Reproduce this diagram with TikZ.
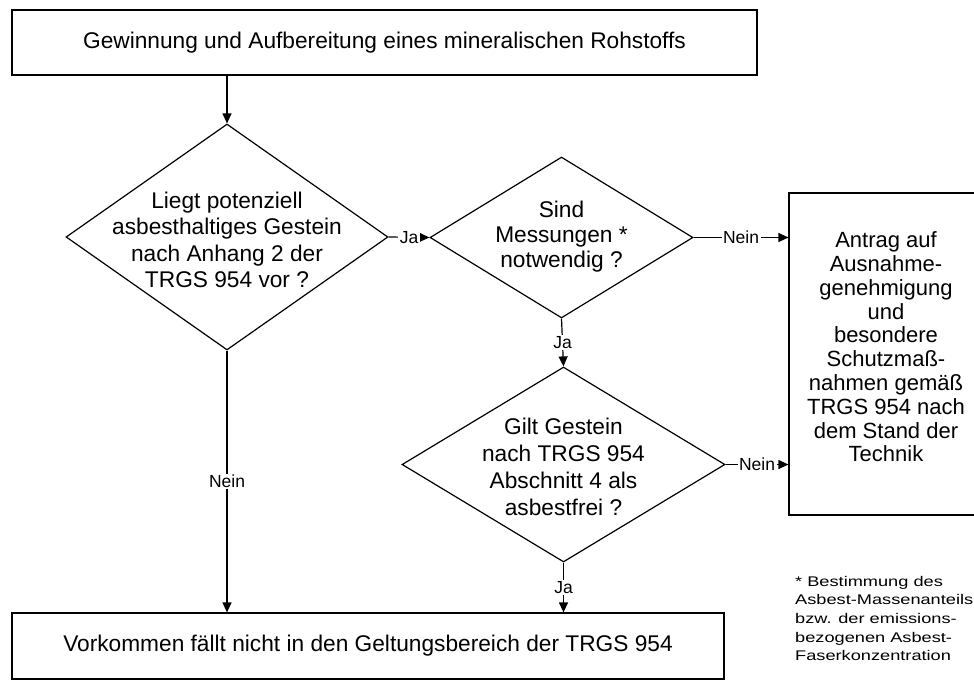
\documentclass[tikz,border=0pt]{standalone}
\usepackage{fontspec}
\setmainfont{Liberation Sans}
\newfontfamily\notefont[FakeStretch=1.3]{Liberation Sans}
\usetikzlibrary{shapes.geometric,arrows.meta}
\begin{document}
\begin{tikzpicture}[x=1pt,y=-1pt,
  box/.style={draw, line width=1.2pt, inner sep=0pt, rectangle},
  dia/.style={draw, diamond, line width=1.2pt, inner sep=0pt},
  maintxt/.style={font=\fontsize{22.7}{26.5}\selectfont, align=center, inner sep=0pt},
  boxtxt/.style={font=\fontsize{22}{23.8}\selectfont, align=center, inner sep=0pt},
  lbl/.style={font=\fontsize{17.5}{19}\selectfont, fill=white, inner sep=1.5pt},
  conn/.style={line width=1.2pt},
  arr/.style={conn, -{Triangle[length=10pt,width=9pt]}}]
\useasboundingbox (0,0) rectangle (974,680);
\clip (0,0) rectangle (974,680);
\fill[white] (0,0) rectangle (974,680);

% boxes
\node[box, minimum width=745pt, minimum height=65pt] (top) at (384.5,42.5) {};
\node[maintxt] (toptxt) at (top.center) {Gewinnung und Aufbereitung eines mineralischen Rohstoffs};

\node[box, minimum width=712pt, minimum height=66pt] (bot) at (368,646) {};
\node[maintxt] (bottxt) at (bot.center) {Vorkommen fällt nicht in den Geltungsbereich der TRGS 954};

\node[box, minimum width=201pt, minimum height=322pt] (rbox) at (889.5,354) {};
\node[boxtxt] (rtxt) at (886,347) {Antrag auf\\Ausnahme-\\genehmigung\\und\\besondere\\Schutzmaß-\\nahmen gemäß\\TRGS 954 nach\\dem Stand der\\Technik};

% diamonds
\node[dia, minimum width=322pt, minimum height=226pt] (d1) at (227,237) {};
\node[maintxt] (d1t) at (227,240) {Liegt potenziell\\asbesthaltiges Gestein\\nach Anhang 2 der\\TRGS 954 vor ?};

\node[dia, minimum width=263pt, minimum height=161pt] (d2) at (561.5,237.5) {};
\node[maintxt, font=\fontsize{22.7}{25}\selectfont] (d2t) at (561.5,237) {Sind\\Messungen *\\notwendig ?};

\node[dia, minimum width=323pt, minimum height=195pt] (d3) at (563.5,464.5) {};
\node[maintxt, font=\fontsize{22.7}{27}\selectfont] (d3t) at (563.5,466.5) {Gilt Gestein\\nach TRGS 954\\Abschnitt 4 als\\asbestfrei ?};

% footnote
\node[anchor=north west, align=left, inner sep=0pt, font=\notefont\fontsize{14}{18.6}\selectfont] (note) at (795,576) {* Bestimmung des\\Asbest-Massenanteils\\bzw. der emissions-\\bezogenen Asbest-\\Faserkonzentration};

% connectors
\draw[arr] (d1.north |- top.south) -- (d1.north);
\draw[arr] (d1.east) -- node[lbl] (l1) {Ja} (d2.west);
\draw[arr] (d2.east) -- node[lbl] (l2) {Nein} (d2.east -| rbox.west);
\draw[arr] (d2.south) -- node[lbl] (l3) {Ja} (d3.north);
\draw[arr] (d3.east) -- node[lbl] (l4) {Nein} (d3.east -| rbox.west);
\draw[arr] (d3.south) -- node[lbl] (l5) {Ja} (d3.south |- bot.north);
\draw[arr] (d1.south) -- node[lbl] (l6) {Nein} (d1.south |- bot.north);
\end{tikzpicture}
\end{document}
